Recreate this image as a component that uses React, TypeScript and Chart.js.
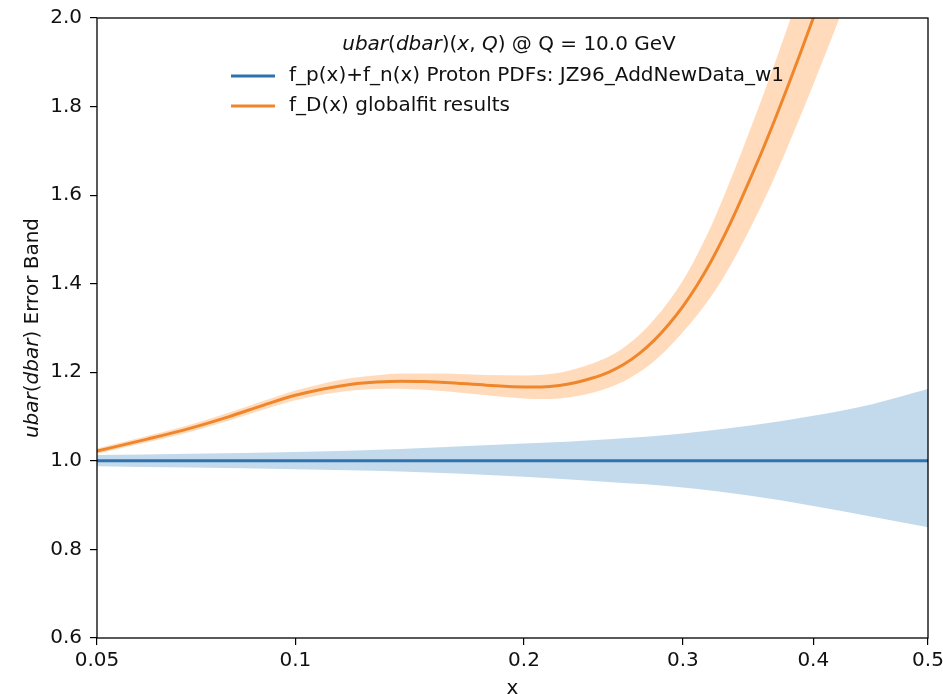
import React, { useEffect, useRef } from "react";
import { Chart, registerables } from "chart.js";

Chart.register(...registerables);

// ---------- data ----------
const X_TICKS = [0.05, 0.1, 0.2, 0.3, 0.4, 0.5];
const X_TICK_LABELS = ["0.05", "0.1", "0.2", "0.3", "0.4", "0.5"];
const Y_MIN = 0.6;
const Y_MAX = 2.0;
const Y_STEP = 0.2;

// f_D(x) globalfit results (orange): central value and half-width of band
const X_D = [0.05, 0.06, 0.07, 0.08, 0.09, 0.1, 0.11, 0.12, 0.13, 0.14, 0.15, 0.16, 0.18, 0.2, 0.21, 0.22, 0.23, 0.24, 0.25, 0.26, 0.27, 0.28, 0.29, 0.3, 0.31, 0.32, 0.33, 0.34, 0.35, 0.36, 0.37, 0.38, 0.39, 0.4, 0.42, 0.45, 0.5];
const Y_D = [1.022, 1.049, 1.074, 1.1, 1.126, 1.148, 1.163, 1.173, 1.178, 1.18, 1.179, 1.177, 1.171, 1.167, 1.167, 1.170, 1.177, 1.187, 1.2, 1.218, 1.242, 1.272, 1.308, 1.349, 1.396, 1.449, 1.508, 1.572, 1.639, 1.707, 1.778, 1.851, 1.925, 2.0, 2.155, 2.4, 2.85];
const ERR_D = [0.006, 0.007, 0.008, 0.009, 0.01, 0.011, 0.0125, 0.014, 0.0155, 0.017, 0.0185, 0.02, 0.023, 0.026, 0.0275, 0.029, 0.031, 0.033, 0.035, 0.038, 0.042, 0.047, 0.052, 0.058, 0.068, 0.079, 0.091, 0.102, 0.112, 0.121, 0.129, 0.136, 0.143, 0.15, 0.168, 0.195, 0.24];

// f_p(x)+f_n(x) proton PDFs (blue): central value and band edges
const X_P = [0.05, 0.07, 0.1, 0.14, 0.2, 0.25, 0.3, 0.35, 0.4, 0.45, 0.5];
const Y_P = [1.0, 1.0, 1.0, 1.0, 1.0, 1.0, 1.0, 1.0, 1.0, 1.0, 1.0];
const UP_P = [1.013, 1.016, 1.02, 1.027, 1.039, 1.049, 1.062, 1.08, 1.102, 1.128, 1.162];
const LO_P = [0.988, 0.985, 0.981, 0.976, 0.964, 0.952, 0.94, 0.921, 0.898, 0.874, 0.85];

const TITLE_RUNS: [string, boolean][] = [
  ["ubar", true], ["(", false], ["dbar", true], [")(", false], ["x", true], [", ", false], ["Q", true], [")", false], [" @ Q = 10.0 GeV", false],
];
const LEGEND_LABELS = ["f_p(x)+f_n(x) Proton PDFs: JZ96_AddNewData_w1", "f_D(x) globalfit results"];
const YLABEL_RUNS: [string, boolean][] = [["ubar", true], ["(", false], ["dbar", true], [")", false], [" Error Band", false]];
const XLABEL = "x";

// ---------- styles ----------
const BLUE = "#2f72ae";
const BLUE_BAND = "rgba(31,119,180,0.27)";
const ORANGE = "#f0862c";
const ORANGE_BAND = "rgba(255,127,14,0.28)";
const FONT = '"DejaVu Sans", "Liberation Sans", sans-serif';
const FS = 20;
const TEXT = "#111";

// axis transform of the original figure
const fwd = (x: number) => Math.log(x) + 2.5 * x;

const pts = (xs: number[], ys: number[]) => xs.map((x, i) => ({ x: fwd(x), y: ys[i] }));

function drawRuns(ctx: CanvasRenderingContext2D, runs: [string, boolean][], x: number, y: number, align: "center" | "left") {
  const widths = runs.map(([t, it]) => {
    ctx.font = `${it ? "italic " : ""}${FS}px ${FONT}`;
    return ctx.measureText(t).width;
  });
  const total = widths.reduce((a, b) => a + b, 0);
  let cx = align === "center" ? x - total / 2 : x;
  ctx.textAlign = "left";
  runs.forEach(([t, it], i) => {
    ctx.font = `${it ? "italic " : ""}${FS}px ${FONT}`;
    ctx.fillText(t, cx, y);
    cx += widths[i];
  });
}

const decor = {
  id: "decor",
  afterDraw(chart: any) {
    const { ctx, chartArea } = chart;
    const { left, right, top, bottom } = chartArea;
    ctx.save();
    // frame
    ctx.strokeStyle = "#000";
    ctx.lineWidth = 1.3;
    ctx.strokeRect(left, top, right - left, bottom - top);

    ctx.fillStyle = TEXT;
    ctx.textBaseline = "middle";
    // legend title
    drawRuns(ctx, TITLE_RUNS, 509, 45, "center");
    // legend entries
    const entries = [
      { color: BLUE, label: LEGEND_LABELS[0], y: 76 },
      { color: ORANGE, label: LEGEND_LABELS[1], y: 106 },
    ];
    entries.forEach((e) => {
      ctx.strokeStyle = e.color;
      ctx.lineWidth = 3.2;
      ctx.beginPath();
      ctx.moveTo(231, e.y);
      ctx.lineTo(275, e.y);
      ctx.stroke();
      ctx.fillStyle = TEXT;
      drawRuns(ctx, [[e.label, false]], 289, e.y, "left");
    });

    // y label
    ctx.save();
    ctx.translate(33, (top + bottom) / 2);
    ctx.rotate(-Math.PI / 2);
    ctx.textBaseline = "middle";
    drawRuns(ctx, YLABEL_RUNS, 0, 0, "center");
    ctx.restore();

    // x label
    ctx.textBaseline = "alphabetic";
    drawRuns(ctx, [[XLABEL, false]], (left + right) / 2, 694, "center");
    ctx.restore();
  },
};

export default function App() {
  const ref = useRef<HTMLCanvasElement | null>(null);

  useEffect(() => {
    if (!ref.current) return;
    const common = { pointRadius: 0, cubicInterpolationMode: "monotone" as const, clip: 0 };
    const chart = new Chart(ref.current, {
      type: "line",
      data: {
        datasets: [
          { ...common, label: "pUp", data: pts(X_P, UP_P), borderColor: "rgba(0,0,0,0)", borderWidth: 0, fill: "+1", backgroundColor: BLUE_BAND, order: 5 },
          { ...common, label: "pLo", data: pts(X_P, LO_P), borderColor: "rgba(0,0,0,0)", borderWidth: 0, fill: false, order: 4 },
          { ...common, label: "dUp", data: pts(X_D, Y_D.map((y, i) => y + ERR_D[i])), borderColor: "rgba(0,0,0,0)", borderWidth: 0, fill: "+1", backgroundColor: ORANGE_BAND, order: 3 },
          { ...common, label: "dLo", data: pts(X_D, Y_D.map((y, i) => y - ERR_D[i])), borderColor: "rgba(0,0,0,0)", borderWidth: 0, fill: false, order: 2 },
          { ...common, label: LEGEND_LABELS[0], data: pts(X_P, Y_P), borderColor: BLUE, borderWidth: 3, fill: false, order: 1 },
          { ...common, label: LEGEND_LABELS[1], data: pts(X_D, Y_D), borderColor: ORANGE, borderWidth: 3, fill: false, order: 0 },
        ] as any,
      },
      options: {
        animation: false,
        responsive: false,
        devicePixelRatio: 1,
        layout: { padding: { left: 0, right: 15, top: 18, bottom: 0 } },
        plugins: { legend: { display: false }, tooltip: { enabled: false }, title: { display: false } },
        scales: {
          x: {
            type: "linear",
            min: fwd(X_TICKS[0]),
            max: fwd(X_TICKS[X_TICKS.length - 1]),
            afterBuildTicks: (s: any) => {
              s.ticks = X_TICKS.map((v) => ({ value: fwd(v) }));
            },
            afterFit: (s: any) => {
              s.height = 56;
              s.paddingLeft = 0;
              s.paddingRight = 0;
            },
            ticks: {
              autoSkip: false,
              maxRotation: 0,
              padding: 4,
              color: TEXT,
              font: { family: FONT, size: FS },
              callback: (_v: any, i: number) => X_TICK_LABELS[i],
            },
            grid: { drawOnChartArea: false, drawTicks: true, tickLength: 7, color: "#000", lineWidth: 1.2 },
            border: { display: false },
          },
          y: {
            type: "linear",
            min: Y_MIN,
            max: Y_MAX,
            afterFit: (s: any) => {
              s.width = 97;
              s.paddingTop = 0;
              s.paddingBottom = 0;
            },
            ticks: {
              stepSize: Y_STEP,
              padding: 8,
              color: TEXT,
              font: { family: FONT, size: FS },
              callback: (v: any) => Number(v).toFixed(1),
            },
            grid: { drawOnChartArea: false, drawTicks: true, tickLength: 7, color: "#000", lineWidth: 1.2 },
            border: { display: false },
          },
        },
      },
      plugins: [decor],
    });
    return () => chart.destroy();
  }, []);

  return (
    <div style={{ position: "fixed", left: 0, top: 0, width: 943, height: 694, background: "#fff" }}>
      <canvas ref={ref} width={943} height={694} style={{ display: "block" }} />
    </div>
  );
}
